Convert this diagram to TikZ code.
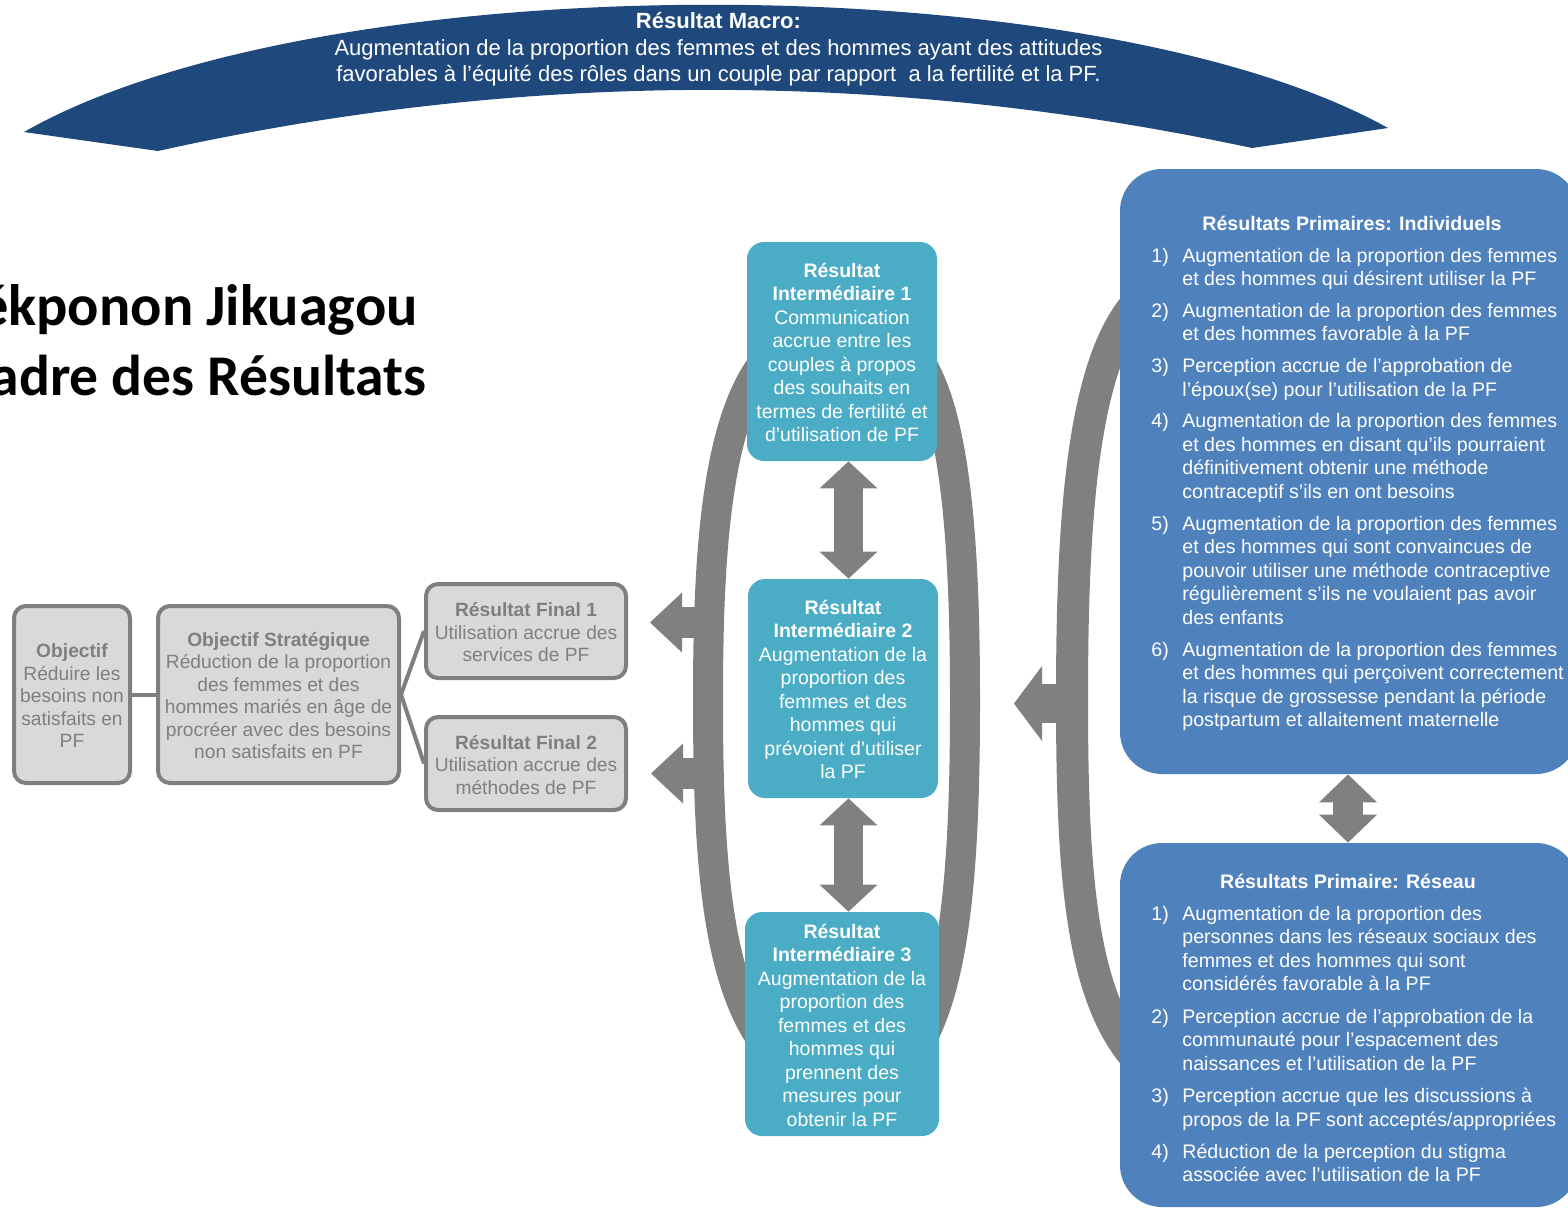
\documentclass[tikz,border=0pt]{standalone}
\usepackage{fontspec}
\setmainfont{Liberation Sans}
\newfontfamily\titlefont{Carlito}
\usetikzlibrary{arrows.meta,backgrounds}
\definecolor{bannerblue}{HTML}{1F497D}
\definecolor{irteal}{HTML}{4BACC6}
\definecolor{primblue}{HTML}{4F81BD}
\definecolor{ringgray}{HTML}{808080}
\definecolor{boxfill}{HTML}{D9D9D9}
\definecolor{boxedge}{HTML}{7F7F7F}
\definecolor{graytext}{HTML}{7F7F7F}
\newcommand{\cl}[1]{\raisebox{-1.75pt}[\height][\depth]{\begin{tabular}{@{}c@{}}#1\end{tabular}}}
\newcommand{\plist}[1]{\begin{tabular}[t]{@{}p{15.5pt}@{}l@{}}#1\end{tabular}}
\begin{document}
\begin{tikzpicture}[x=0.5pt,y=-0.5pt,
  graybox/.style={draw=boxedge, line width=2pt, fill=boxfill, rounded corners=6pt, inner sep=0pt, text=graytext, font=\fontsize{9.6}{11.25}\selectfont},
  tealbox/.style={fill=irteal, rounded corners=8.5pt, inner sep=0pt, text=white, font=\fontsize{9.75}{11.75}\selectfont},
  bluebox/.style={fill=primblue, rounded corners=21pt, inner sep=0pt},
  bluetext/.style={inner sep=0pt, text=white, font=\fontsize{9.8}{11.8}\selectfont},
  bluetitle/.style={inner sep=0pt, text=white, font=\fontsize{9.8}{11.8}\selectfont\bfseries},
  titletext/.style={inner sep=0pt, font=\titlefont\bfseries\fontsize{28.8}{35}\selectfont},
  ring/.style={draw=ringgray, line width=15pt},
  bigring/.style={draw=ringgray, line width=16pt},
  conn/.style={draw=boxedge, line width=2pt},
  dblarrow/.style={draw=ringgray, line width=14.5pt, >={Triangle[length=13.5pt,width=29pt,line width=0pt]}, <->},
  dblarrowb/.style={draw=ringgray, line width=15pt, >={Triangle[length=14pt,width=29pt,line width=0pt]}, <->},
  leftarrow/.style={draw=ringgray, line width=15.5pt, >={Triangle[length=16pt,width=30pt,line width=0pt]}, ->},
  bigarrow/.style={draw=ringgray, line width=19.5pt, >={Triangle[length=14pt,width=37.5pt,line width=0pt]}, ->}
]
\useasboundingbox (0,0) rectangle (1568,1207);
\clip (0,0) rectangle (1568,1207);

% banner
\fill[bannerblue] (24,132) .. controls (320,-37) and (1092,-37) .. (1388,128)
  -- (1252,148) .. controls (887,70) and (523,70) .. (158,151) -- cycle;
\node[text=white, inner sep=0pt, font=\fontsize{11}{13.25}\selectfont] (macro) at (718.5,46.5)
  {\cl{\textbf{Résultat Macro:}\\Augmentation de la proportion des femmes et des hommes ayant des attitudes\\favorables à l’équité des rôles dans un couple par rapport\ \ a la fertilité et la PF.}};

% title
\node[titletext, anchor=base east, font=\titlefont\bfseries\fontsize{29.2}{35}\selectfont] (title1) at (418,325) {Tékponon Jikuagou};
\node[titletext, anchor=base east] (title2) at (427,395) {Cadre des Résultats};

% gray boxes
\node[graybox, minimum width=58pt, minimum height=88.5pt] (obj) at (72,694.5)
  {\cl{\textbf{Objectif}\\Réduire les\\besoins non\\satisfaits en\\PF}};
\node[graybox, minimum width=120.5pt, minimum height=88.5pt] (os) at (278.5,694.5)
  {\cl{\textbf{Objectif Stratégique}\\Réduction de la proportion\\des femmes et des\\hommes mariés en âge de\\procréer avec des besoins\\non satisfaits en PF}};
\node[graybox, minimum width=100pt, minimum height=47pt] (rf1) at (526,631)
  {\cl{\textbf{Résultat Final 1}\\Utilisation accrue des\\services de PF}};
\node[graybox, minimum width=100pt, minimum height=46.5pt] (rf2) at (526,763.5)
  {\cl{\textbf{Résultat Final 2}\\Utilisation accrue des\\méthodes de PF}};

% teal boxes
\node[tealbox, minimum width=95pt, minimum height=109.5pt] (ir1) at (842,351.5)
  {\cl{\textbf{Résultat}\\\textbf{Intermédiaire 1}\\Communication\\accrue entre les\\couples à propos\\des souhaits en\\termes de fertilité et\\d’utilisation de PF}};
\node[tealbox, minimum width=95pt, minimum height=109.5pt] (ir2) at (843,688.5)
  {\cl{\textbf{Résultat}\\\textbf{Intermédiaire 2}\\Augmentation de la\\proportion des\\femmes et des\\hommes qui\\prévoient d’utiliser\\la PF}};
\node[tealbox, minimum width=97pt, minimum height=112pt] (ir3) at (842,1024)
  {\cl{\textbf{Résultat}\\\textbf{Intermédiaire 3}\\Augmentation de la\\proportion des\\femmes et des\\hommes qui\\prennent des\\mesures pour\\obtenir la PF}};

% blue boxes
\node[bluebox, minimum width=229pt, minimum height=302.5pt] (ind) at (1349,471.5) {};
\node[bluebox, minimum width=229pt, minimum height=182pt] (res) at (1349,1025) {};

\node[bluetitle, anchor=base] (indt) at (1352,230) {Résultats Primaires: Individuels};
\node[bluetext, anchor=base west] (indl) at (1151,262) {\plist{%
1) & Augmentation de la proportion des femmes\\
   & et des hommes qui désirent utiliser la PF\\[4pt]
2) & Augmentation de la proportion des femmes\\
   & et des hommes favorable à la PF\\[4pt]
3) & Perception accrue de l’approbation de\\
   & l’époux(se) pour l’utilisation de la PF\\[4pt]
4) & Augmentation de la proportion des femmes\\
   & et des hommes en disant qu’ils pourraient\\
   & définitivement obtenir une méthode\\
   & contraceptif s’ils en ont besoins\\[4pt]
5) & Augmentation de la proportion des femmes\\
   & et des hommes qui sont convaincues de\\
   & pouvoir utiliser une méthode contraceptive\\
   & régulièrement s’ils ne voulaient pas avoir\\
   & des enfants\\[4pt]
6) & Augmentation de la proportion des femmes\\
   & et des hommes qui perçoivent correctement\\
   & la risque de grossesse pendant la période\\
   & postpartum et allaitement maternelle}};

\node[bluetitle, anchor=base] (rest) at (1348,888) {Résultats Primaire: Réseau};
\node[bluetext, anchor=base west] (resl) at (1151,920) {\plist{%
1) & Augmentation de la proportion des\\
   & personnes dans les réseaux sociaux des\\
   & femmes et des hommes qui sont\\
   & considérés favorable à la PF\\[4.3pt]
2) & Perception accrue de l’approbation de la\\
   & communauté pour l’espacement des\\
   & naissances et l’utilisation de la PF\\[4.3pt]
3) & Perception accrue que les discussions à\\
   & propos de la PF sont acceptés/appropriées\\[4.3pt]
4) & Réduction de la perception du stigma\\
   & associée avec l’utilisation de la PF}};

% coordinates
\coordinate (cx) at (848.5,0);
\coordinate (rx) at (1348,0);
\coordinate (lrtop) at (770,355);
\coordinate (lrmid) at (708,700);
\coordinate (lrbot) at (770,1050);
\coordinate (rrtop) at (915,355);
\coordinate (rrmid) at (965,700);
\coordinate (rrbot) at (915,1050);
\coordinate (brtop) at (1140,300);
\coordinate (brmid) at (1072,700);
\coordinate (brbot) at (1140,1062);
\coordinate (a1s) at (712,622.5);
\coordinate (a1t) at (650,622.5);
\coordinate (a2s) at (712,773.5);
\coordinate (a2t) at (651,773.5);
\coordinate (a3s) at (1075,703.5);
\coordinate (a3t) at (1014,703.5);

\begin{scope}[on background layer]
  \draw[ring] (lrtop) .. controls (715,415) and (708,560) .. (lrmid)
    .. controls (708,850) and (715,985) .. (lrbot);
  \draw[ring] (rrtop) .. controls (958,410) and (965,560) .. (rrmid)
    .. controls (965,850) and (958,985) .. (rrbot);
  \draw[bigring] (brtop) .. controls (1082,360) and (1072,520) .. (brmid)
    .. controls (1072,880) and (1082,1000) .. (brbot);
  \draw[dblarrow] (cx |- ir1.south) -- (cx |- ir2.north);
  \draw[dblarrow] (cx |- ir2.south) -- (cx |- ir3.north);
  \draw[dblarrowb] (rx |- ind.south) -- (rx |- res.north);
  \draw[leftarrow] (a1s) -- (a1t);
  \draw[leftarrow] (a2s) -- (a2t);
  \draw[bigarrow] (a3s) -- (a3t);
  \draw[conn] (obj.east) -- (os.west);
  \draw[conn] (os.east) -- (rf1.west);
  \draw[conn] (os.east) -- (rf2.west);
\end{scope}
\end{tikzpicture}
\end{document}
